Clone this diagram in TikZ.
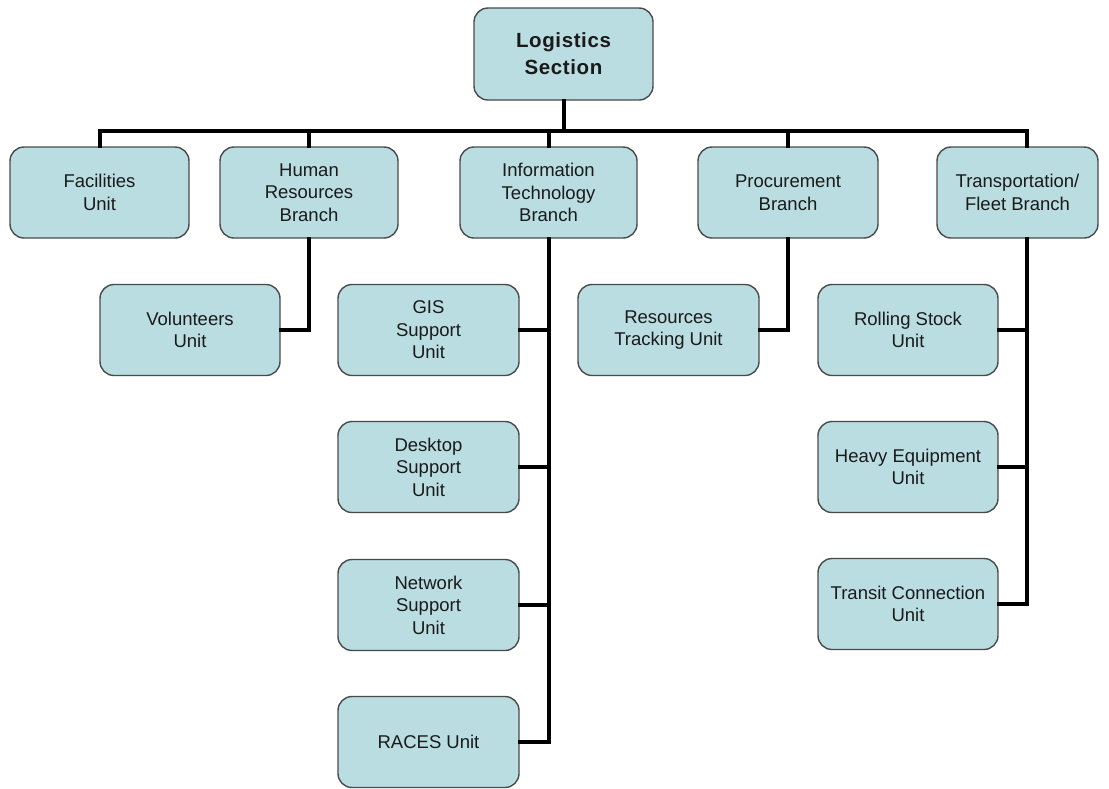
\documentclass[tikz,border=0pt]{standalone}
\usepackage{fontspec}
\setmainfont{Liberation Sans}
\begin{document}
\begin{tikzpicture}[x=1pt,y=-1pt,
  box/.style={draw=boxline, line width=1.4pt, fill=boxfill, rounded corners=14pt,
    minimum width=180pt, minimum height=91pt, align=center, inner sep=2pt,
    text=boxtext, font=\fontsize{18.5}{22.5}\selectfont},
  conn/.style={line width=4pt, draw=black, line join=miter, line cap=rect}]
\definecolor{boxfill}{HTML}{BADDE2}
\definecolor{boxline}{HTML}{4A4A4A}
\definecolor{boxtext}{HTML}{1A1A1A}
\useasboundingbox (0,0) rectangle (1109,788);
% top
\node[box, minimum width=179pt, minimum height=92pt, font=\bfseries\fontsize{20.5}{27}\selectfont\addfontfeatures{LetterSpace=3}] (log) at (563.5,54) {Logistics\\Section};
% level 1
\node[box, minimum width=179pt] (fac) at (99.5,192.5) {Facilities\\Unit};
\node[box, minimum width=178pt] (hr) at (309,192.5) {Human\\Resources\\Branch};
\node[box, minimum width=177pt] (it) at (548.5,192.5) {Information\\Technology\\Branch};
\node[box] (proc) at (788,192.5) {Procurement\\Branch};
\node[box, minimum width=161pt] (trans) at (1017.5,192.5) {Transportation/\\Fleet Branch};
% level 2
\node[box] (vol) at (190,330) {Volunteers\\Unit};
\node[box, minimum width=181pt] (gis) at (428.5,330) {GIS\\Support\\Unit};
\node[box, minimum width=181pt] (desk) at (428.5,467) {Desktop\\Support\\Unit};
\node[box, minimum width=181pt] (net) at (428.5,605) {Network\\Support\\Unit};
\node[box, minimum width=181pt] (races) at (428.5,742) {RACES Unit};
\node[box, minimum width=181pt] (res) at (668.5,330) {Resources\\Tracking Unit};
\node[box] (roll) at (908,330) {Rolling Stock\\Unit};
\node[box] (heavy) at (908,467) {Heavy Equipment\\Unit};
\node[box] (transit) at (908,604) {Transit Connection\\Unit};
% bus
\coordinate (busL) at (99.5,131);
\coordinate (busR) at (1027,131);
\draw[conn] (busL) -- (busR);
\draw[conn] (log.south) -- (log.south |- busL);
\draw[conn] (fac.north) -- (fac.north |- busL);
\draw[conn] (hr.north) -- (hr.north |- busL);
\draw[conn] (it.north) -- (it.north |- busL);
\draw[conn] (proc.north) -- (proc.north |- busL);
\draw[conn] (trans.north -| busR) -- (busR);
% branches
\draw[conn] (hr.south) |- (vol.east);
\draw[conn] (proc.south) |- (res.east);
\draw[conn] (it.south) |- (races.east);
\draw[conn] (gis.east) -- (gis.east -| it.south);
\draw[conn] (desk.east) -- (desk.east -| it.south);
\draw[conn] (net.east) -- (net.east -| it.south);
\draw[conn] (trans.south -| busR) |- (transit.east);
\draw[conn] (roll.east) -- (roll.east -| busR);
\draw[conn] (heavy.east) -- (heavy.east -| busR);
\end{tikzpicture}
\end{document}
